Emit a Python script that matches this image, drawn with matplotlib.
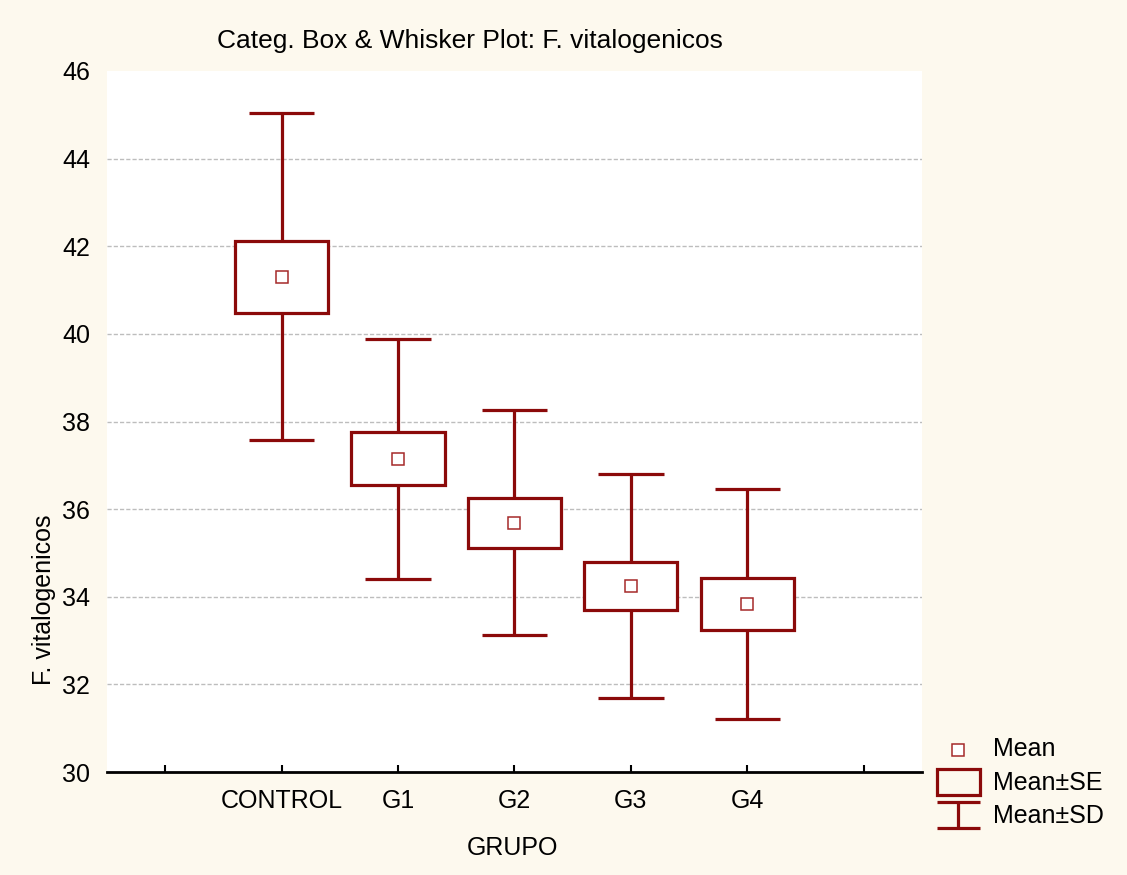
import matplotlib
matplotlib.use("Agg")
import matplotlib.pyplot as plt
from matplotlib.patches import Rectangle

groups = ["CONTROL", "G1", "G2", "G3", "G4"]
means = [41.30, 37.15, 35.69, 34.25, 33.84]
se = [0.83, 0.61, 0.57, 0.55, 0.59]
sd = [3.73, 2.74, 2.57, 2.55, 2.63]

red = "#8B0A0A"
bg = "#FDF9EE"
plt.rcParams["font.family"] = ["Liberation Sans", "DejaVu Sans"]
fs = 18

fig = plt.figure(figsize=(11.27, 8.75), dpi=100, facecolor=bg)
ax = fig.add_axes([107/1127, 1-772/875, 815/1127, 701/875])
ax.set_facecolor("white")

pos = list(range(1, len(groups)+1))
for x, m, e, d in zip(pos, means, se, sd):
    ax.vlines(x, m+e, m+d, color=red, lw=2.3, zorder=3)
    ax.vlines(x, m-d, m-e, color=red, lw=2.3, zorder=3)
    ax.hlines([m+d, m-d], x-0.28, x+0.28, color=red, lw=2.3, zorder=3)
    ax.add_patch(Rectangle((x-0.4, m-e), 0.8, 2*e, facecolor="white",
                           edgecolor=red, lw=2.3, zorder=4))
ax.plot(pos, means, ls="none", marker="s", ms=8, mfc="white", mec="#A52A2A",
        mew=1.1, zorder=5)

for yv in [32, 34, 36, 38, 40, 42, 44]:
    ax.axhline(yv, color="#BDBDBD", lw=1, ls=(0, (3, 1.5)), zorder=1)

ax.set_xlim(-0.5, 6.5)
ax.set_ylim(30, 46)
ax.set_xticks(range(0, 7))
ax.set_xticklabels([""] + groups + [""], fontsize=fs)
ax.set_yticks(range(30, 47, 2))
ax.tick_params(axis="y", length=0, pad=12, labelsize=fs)
ax.tick_params(axis="x", direction="in", length=5, width=1.5, pad=12)
for s in ["top", "right", "left"]:
    ax.spines[s].set_visible(False)
ax.spines["bottom"].set_linewidth(2)

fig.text(470/1127, 1-41/875, "Categ. Box & Whisker Plot: F. vitalogenicos",
         ha="center", va="center", fontsize=19)
fig.text(512/1127, 1-848/875, "GRUPO", ha="center", va="center", fontsize=fs)
fig.text(44/1127, 1-600/875, "F. vitalogenicos", ha="center", va="center",
         rotation=90, fontsize=fs)

# legend drawn in its own pixel-like axes
lg = fig.add_axes([930/1127, 1-840/875, 190/1127, 110/875])
lg.set_xlim(930, 1120)
lg.set_ylim(840, 730)
lg.axis("off")
lg.plot([958], [750], ls="none", marker="s", ms=8, mfc="white", mec="#A52A2A", mew=1.1)
lg.add_patch(Rectangle((937, 769), 43, 26, facecolor="none", edgecolor=red, lw=2.3))
lg.hlines([802, 828], 937, 980, color=red, lw=2.3)
lg.vlines(958, 802, 828, color=red, lw=2.3)
lg.text(993, 749, "Mean", fontsize=fs, va="center")
lg.text(993, 783, "Mean±SE", fontsize=fs, va="center")
lg.text(993, 816, "Mean±SD", fontsize=fs, va="center")

fig.savefig("out.png", dpi=100, facecolor=bg)
